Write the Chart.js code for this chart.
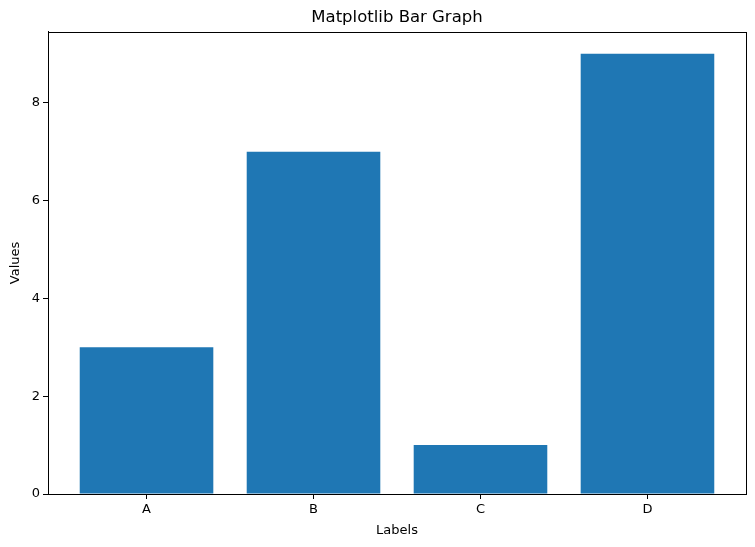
<!DOCTYPE html>
<html>
<head>
<meta charset="utf-8">
<script src="https://cdn.jsdelivr.net/npm/chart.js@4/dist/chart.umd.min.js"></script>
<style>
  body { margin: 0; background: #fff; }
  canvas { display: block; }
</style>
</head>
<body>
<canvas id="chart" width="755" height="547"></canvas>
<script>
// data
const labels = ['A', 'B', 'C', 'D'];
const values = [3, 7, 1, 9];
const yTicks = [0, 2, 4, 6, 8];

const font = 'DejaVu Sans';

// black box round the plot area, like matplotlib spines
const frame = {
    id: 'frame',
    afterDraw(chart) {
        const a = chart.chartArea;
        const ctx = chart.ctx;
        ctx.save();
        ctx.strokeStyle = '#000';
        ctx.lineWidth = 1;
        ctx.strokeRect(Math.round(a.left) + 0.5, Math.round(a.top) + 0.5,
            Math.round(a.right - a.left), Math.round(a.bottom - a.top));
        ctx.restore();
    }
};

new Chart(document.getElementById('chart'), {
    type: 'bar',
    data: {
        datasets: [{
            data: values.map((v, i) => ({ x: i, y: v })),
            backgroundColor: '#1f77b4',
            borderWidth: 0,
            inflateAmount: 0,
            barPercentage: 0.8,
            categoryPercentage: 1.0,
        }],
    },
    options: {
        responsive: false,
        animation: false,
        layout: { padding: { left: 0, right: 9, top: 0, bottom: 0 } },
        plugins: {
            legend: { display: false },
            tooltip: { enabled: false },
            title: {
                display: true,
                fullSize: false,
                text: 'Matplotlib Bar Graph',
                color: '#000',
                font: { family: font, size: 16.5, weight: 'normal' },
                padding: { top: 8, bottom: 4 },
            },
        },
        scales: {
            x: {
                type: 'linear',
                min: -0.59,
                max: 3.59,
                offset: false,
                afterBuildTicks: axis => { axis.ticks = labels.map((_, i) => ({ value: i })); },
                afterFit: axis => { axis.height = 53; },
                ticks: {
                    callback: v => labels[v] ?? '',
                    color: '#000',
                    font: { family: font, size: 13 },
                    padding: 3,
                    maxRotation: 0,
                },
                grid: {
                    drawOnChartArea: false,
                    drawTicks: true,
                    tickLength: 5,
                    tickColor: '#000',
                    offset: false,
                },
                border: { color: '#000', width: 1 },
                title: {
                    display: true,
                    text: 'Labels',
                    color: '#000',
                    font: { family: font, size: 13 },
                    padding: { top: 4, bottom: 9 },
                },
            },
            y: {
                min: 0,
                max: 9.45,
                afterBuildTicks: axis => { axis.ticks = yTicks.map(v => ({ value: v })); },
                afterFit: axis => { axis.width = 48; },
                ticks: {
                    color: '#000',
                    font: { family: font, size: 13 },
                    padding: 3,
                },
                grid: {
                    drawOnChartArea: false,
                    drawTicks: true,
                    tickLength: 5,
                    tickColor: '#000',
                },
                border: { color: '#000', width: 1 },
                title: {
                    display: true,
                    text: 'Values',
                    color: '#000',
                    font: { family: font, size: 13 },
                    padding: { top: 8, bottom: 0 },
                },
            },
        },
    },
    plugins: [frame],
});
</script>
</body>
</html>
